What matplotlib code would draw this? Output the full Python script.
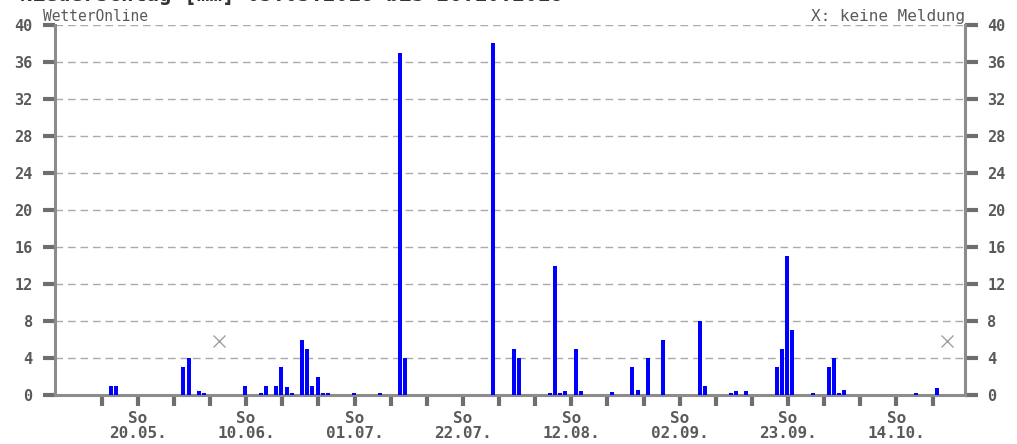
import matplotlib
matplotlib.use("Agg")
import matplotlib.pyplot as plt
import matplotlib.dates as mdates
import pandas as pd

# Niederschlag pro Tag [mm]
tage = ["2018-05-14", "2018-05-15", "2018-05-28", "2018-05-29", "2018-05-31",
        "2018-06-01", "2018-06-09", "2018-06-12", "2018-06-13", "2018-06-15",
        "2018-06-16", "2018-06-17", "2018-06-18", "2018-06-20", "2018-06-21",
        "2018-06-22", "2018-06-23", "2018-06-24", "2018-06-25", "2018-06-30",
        "2018-07-05", "2018-07-09", "2018-07-10", "2018-07-27", "2018-07-31",
        "2018-08-01", "2018-08-07", "2018-08-08", "2018-08-09", "2018-08-10",
        "2018-08-12", "2018-08-13", "2018-08-19", "2018-08-23", "2018-08-24",
        "2018-08-26", "2018-08-29", "2018-09-05", "2018-09-06", "2018-09-11",
        "2018-09-12", "2018-09-14", "2018-09-20", "2018-09-21", "2018-09-22",
        "2018-09-23", "2018-09-27", "2018-09-30", "2018-10-01", "2018-10-02",
        "2018-10-03", "2018-10-17", "2018-10-21"]
niederschlag = [1.0, 1.0, 3.0, 4.0, 0.4,
                0.2, 1.0, 0.2, 1.0, 1.0,
                3.0, 0.9, 0.2, 6.0, 5.0,
                1.0, 2.0, 0.2, 0.2, 0.2,
                0.2, 37.0, 4.0, 38.0, 5.0,
                4.0, 0.2, 14.0, 0.2, 0.5,
                5.0, 0.5, 0.3, 3.0, 0.6,
                4.0, 6.0, 8.0, 1.0, 0.2,
                0.4, 0.4, 3.0, 5.0, 15.0,
                7.0, 0.2, 3.0, 4.0, 0.2,
                0.6, 0.2, 0.8]
# Tage ohne Meldung
keine_meldung = ["2018-06-04", "2018-10-23"]

sonntage = pd.date_range("2018-05-13", "2018-10-21", freq="7D")
beschriftet = ["2018-05-20", "2018-06-10", "2018-07-01", "2018-07-22",
               "2018-08-12", "2018-09-02", "2018-09-23", "2018-10-14"]
y_ticks = list(range(0, 41, 4))

grau = "#5a5a5a"
mono = "DejaVu Sans Mono"

fig = plt.figure(figsize=(10.17, 4.44), dpi=100)
ax = fig.add_axes([0.054, 0.110, 0.895, 0.834])

x = mdates.date2num(pd.to_datetime(tage)) + 0.85
ax.bar(x, niederschlag, width=0.78, color="#0000ff", zorder=3)

xm = mdates.date2num(pd.to_datetime(keine_meldung)) + 0.7
ax.plot(xm, [5.8] * len(xm), linestyle="none", marker="x", markersize=8,
        color="#a0a0a0", markeredgewidth=1.0, zorder=3)

start = mdates.date2num(pd.Timestamp("2018-05-13"))
ax.set_xlim(start - 9.04, start + 167.3)
ax.set_ylim(0, 40)

# Gitter
for v in y_ticks[1:]:
    ax.axhline(v, color="#aaaaaa", linestyle=(0, (5.5, 3.5)), linewidth=1.0, zorder=1)

ax.spines["top"].set_visible(False)
for s in ["left", "right", "bottom"]:
    ax.spines[s].set_color("#8c8c8c")
    ax.spines[s].set_linewidth(2.2)

ax.set_yticks(y_ticks)
ax.set_yticklabels([str(v) for v in y_ticks])
ax.tick_params(axis="y", which="both", left=True, right=True, labelleft=True,
               labelright=True, direction="out", length=9, width=3,
               color="#6e6e6e", pad=7, labelsize=11, labelcolor=grau)
for lab in ax.get_yticklabels():
    lab.set_family(mono)
    lab.set_fontweight("bold")

ax.set_xticks(mdates.date2num(sonntage))
labels = []
for d in sonntage:
    if d.strftime("%Y-%m-%d") in beschriftet:
        labels.append("So\n" + d.strftime("%d.%m."))
    else:
        labels.append("")
ax.set_xticklabels(labels)
ax.tick_params(axis="x", direction="out", length=8, width=3, color="#6e6e6e",
               pad=3.5, labelsize=11.5, labelcolor=grau)
for lab in ax.get_xticklabels():
    lab.set_family(mono)
    lab.set_fontweight("bold")
    lab.set_linespacing(0.98)

fig.text(0.042, 0.953, "WetterOnline", fontsize=10.5, family=mono, color=grau)
fig.text(0.949, 0.953, "X: keine Meldung", fontsize=11.5, family=mono,
         color=grau, ha="right")
# Titel, oben vom Bildrand abgeschnitten wie im Original
fig.text(0.02, 1.013, "Niederschlag [mm] 05.05.2018 bis 26.10.2018", fontsize=15,
         family=mono, fontweight="bold", color="#333333", va="center")

fig.savefig("out.png", dpi=100)
